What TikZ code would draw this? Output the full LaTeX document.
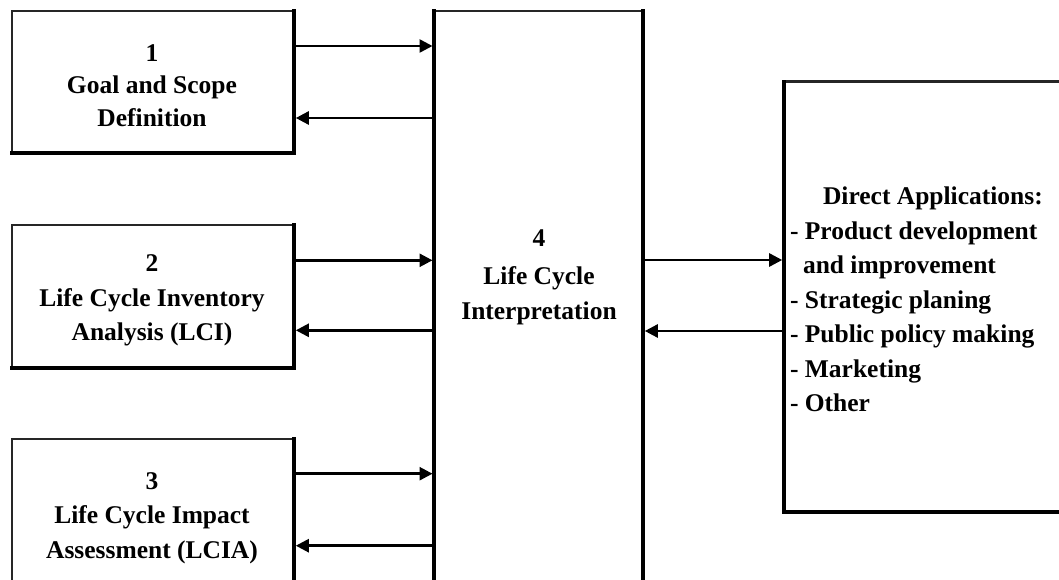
\documentclass[tikz,border=0pt]{standalone}
\usepackage{fontspec}
\setmainfont{Liberation Serif}
\usetikzlibrary{arrows.meta,calc}
\begin{document}
\begin{tikzpicture}[x=1pt,y=-1pt,
  box/.style={draw=black!85, line width=1.8pt, inner sep=0pt, outer sep=0pt},
  thick edge/.style={draw=black, line width=4pt, line cap=rect, line join=miter},
  lbl/.style={font=\bfseries\fontsize{25.5}{34.5}\selectfont, inner sep=0pt, outer sep=0pt},
  arr/.style={draw=black, line width=2.6pt, -{Triangle[length=13pt,width=13pt]}, shorten <=1.8pt, shorten >=1.8pt}]
\useasboundingbox (0,0) rectangle (1059,580);
\clip (0,0) rectangle (1059,580);
\fill[white] (0,0) rectangle (1059,580);
% boxes
\node[box, minimum width=282pt, minimum height=142.5pt] (b1) at (153,82.25) {};
\node[box, minimum width=282pt, minimum height=143pt] (b2) at (153,296.8) {};
\node[box, minimum width=282pt, minimum height=143pt] (b3) at (153,510.2) {};
\node[box, minimum width=208.7pt, minimum height=609pt] (c4) at (538.65,315.5) {};
\node[box, line width=3pt, minimum width=316pt, minimum height=429.7pt] (da) at (942,296.85) {};
% heavy edges
\draw[thick edge] (b1.north east) -- (b1.south east) -- (b1.south west);
\draw[thick edge] (b2.north east) -- (b2.south east) -- (b2.south west);
\draw[thick edge] (b3.north east) -- (b3.south east) -- (b3.south west);
\draw[thick edge] (c4.north west) -- (c4.south west);
\draw[thick edge] (c4.north east) -- (c4.south east);
\draw[thick edge, line width=3.6pt] (da.north west) -- (da.south west) -- (da.south east);
% texts
\node[lbl, align=center] (t1) at (152,85.5) {1\\[-2pt]Goal and Scope\\[-2pt]Definition};
\node[lbl, align=center] (t2) at (152,300.5) {2\\Life Cycle Inventory\\Analysis (LCI)};
\node[lbl, align=center] (t3) at (152,518) {3\\Life Cycle Impact\\Assessment (LCIA)};
\node[lbl, align=center] (t4) at (539,277) {4\\[4pt]Life Cycle\\Interpretation};
\node[lbl, align=left, anchor=west] (t5) at (790,299.5) {\hspace*{33pt}Direct Applications:\\- Product development\\\hspace*{13pt}and improvement\\- Strategic planing\\- Public policy making\\- Marketing\\- Other};
% connectors
\draw[arr] ([yshift=-35pt]b1.north east) -- ([yshift=-35pt]b1.north east -| c4.west);
\draw[arr] ([yshift=-107pt]b1.north east -| c4.west) -- ([yshift=-107pt]b1.north east);
\draw[arr] ([yshift=-35pt]b2.north east) -- ([yshift=-35pt]b2.north east -| c4.west);
\draw[arr] ([yshift=-105pt]b2.north east -| c4.west) -- ([yshift=-105pt]b2.north east);
\draw[arr] ([yshift=-35pt]b3.north east) -- ([yshift=-35pt]b3.north east -| c4.west);
\draw[arr] ([yshift=-107pt]b3.north east -| c4.west) -- ([yshift=-107pt]b3.north east);
\draw[arr] ([yshift=-178pt]da.north west -| c4.east) -- ([yshift=-178pt]da.north west);
\draw[arr] ([yshift=-249pt]da.north west) -- ([yshift=-249pt]da.north west -| c4.east);
\end{tikzpicture}
\end{document}
